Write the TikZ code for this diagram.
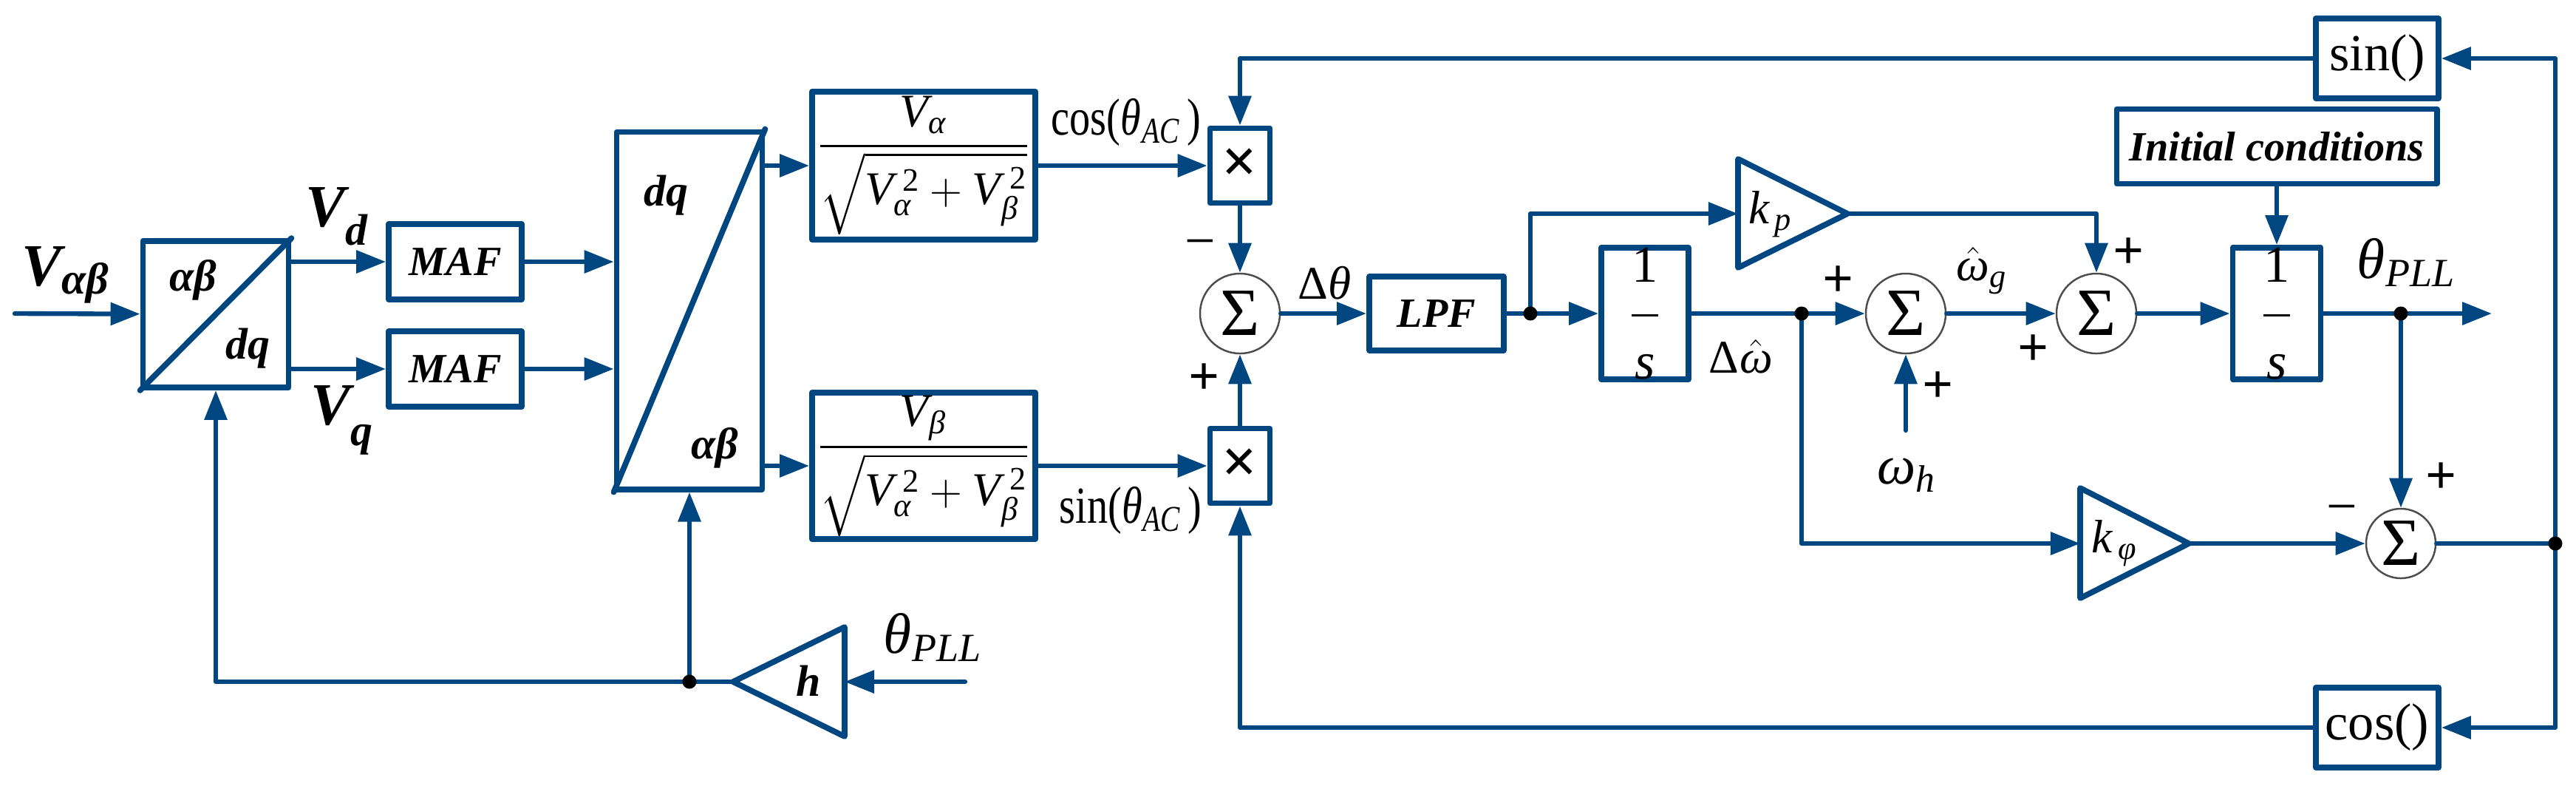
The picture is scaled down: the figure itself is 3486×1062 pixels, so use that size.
\documentclass[tikz,border=0pt]{standalone}
\usepackage{amsmath}
\usepackage{mathspec}
\setmainfont{Liberation Serif}
\setmathsfont(Digits,Latin,Greek){Liberation Serif}
\usetikzlibrary{arrows.meta}
\definecolor{lineblue}{RGB}{0,70,128}

\begin{document}
\begin{tikzpicture}[x=0.01cm,y=-0.01cm,line cap=round,line join=round,
  >={Triangle[length=0.40cm,width=0.30cm]},
  wire/.style={draw=lineblue,line width=1.8pt},
  edgeline/.style={draw=lineblue,line width=2.2pt},
  blk/.style={draw=lineblue,line width=2.2pt,fill=white,inner sep=0pt},
  sumc/.style={circle,draw=black!70,line width=0.7pt,inner sep=0pt,
    minimum size=1.08cm,font=\fontsize{26}{26}\selectfont},
  sgn/.style={inner sep=0pt,font=\bfseries\fontsize{21}{21}\selectfont},
  bi/.style={font=\bfseries\itshape\fontsize{16}{18}\selectfont},
  mth/.style={font=\fontsize{18}{20}\selectfont}]
  \useasboundingbox (0,0) rectangle (3486,1062);

  % frame change, averaging filters, back to alpha-beta
  \coordinate (vin) at (20,424);
  \node[blk,minimum width=1.97cm,minimum height=1.98cm] (park) at (292,425) {};
  \draw[edgeline] (park.south west) -- (park.north east);
  \node[bi,font=\bfseries\itshape\fontsize{17}{18}\selectfont] (parkab) at (261,379) {αβ};
  \node[bi,font=\bfseries\itshape\fontsize{17}{18}\selectfont] (parkdq) at (335,471) {dq};
  \node (lvab) at (88,372) {\bfseries\itshape\fontsize{23}{24}\selectfont
    V\raisebox{-3pt}{\fontsize{17}{17}\selectfont αβ}};
  \node (lvd) at (455,293) {\bfseries\itshape\fontsize{23}{24}\selectfont
    V\raisebox{-7pt}{\fontsize{17}{17}\selectfont d}};
  \node (lvq) at (462,568) {\bfseries\itshape\fontsize{23}{24}\selectfont
    V\raisebox{-8pt}{\fontsize{17}{17}\selectfont q}};
  \node[blk,bi,minimum width=1.80cm,minimum height=1.02cm] (maf1) at (616,354) {MAF};
  \node[blk,bi,minimum width=1.80cm,minimum height=1.02cm] (maf2) at (616,499) {MAF};
  \node[blk,minimum width=1.97cm,minimum height=4.83cm] (ipark) at (933,420) {};
  \draw[edgeline] (ipark.south west) -- (ipark.north east);
  \node[bi,font=\bfseries\itshape\fontsize{17}{18}\selectfont] (iparkdq) at (901,264) {dq};
  \node[bi,font=\bfseries\itshape\fontsize{17}{18}\selectfont] (iparkab) at (967,606) {αβ};

  % normalisation and multipliers
  \node[blk,mth,minimum width=3.02cm,minimum height=2.00cm] (fa) at (1250,224)
    {$\dfrac{V_{\alpha}}{\sqrt{V_{\alpha}^{\;2}+V_{\beta}^{\;2}}}$};
  \node[blk,mth,minimum width=3.02cm,minimum height=1.98cm] (fb) at (1250,630)
    {$\dfrac{V_{\beta}}{\sqrt{V_{\alpha}^{\;2}+V_{\beta}^{\;2}}}$};
  \node[mth,font=\fontsize{20}{22}\selectfont] (lcos) at (1524,165)
    {\scalebox{0.8}[1]{cos($\theta_{AC}$\,)}};
  \node[mth,font=\fontsize{20}{22}\selectfont] (lsin) at (1530,690)
    {\scalebox{0.8}[1]{sin($\theta_{AC}$\,)}};
  \node[blk,minimum width=0.81cm,minimum height=1.01cm,
    font=\bfseries\fontsize{24}{24}\selectfont] (ma) at (1678,224) {×};
  \node[blk,minimum width=0.81cm,minimum height=1.01cm,
    font=\bfseries\fontsize{24}{24}\selectfont] (mb) at (1678,630) {×};
  \node[sumc] (s1) at (1678,424) {Σ};
  \node[sgn,font=\fontsize{21}{21}\selectfont] (s1m) at (1624,337) {−};
  \node[sgn] (s1p) at (1630,513) {+};
  \node[mth] (ldth) at (1793,383) {$\Delta\theta$};

  % loop filter and integrators
  \node[blk,bi,minimum width=1.82cm,minimum height=1.00cm] (lpf) at (1944,424) {LPF};
  \coordinate (d1) at (2071,424);
  \node[blk,mth,minimum width=1.18cm,minimum height=1.74cm,
    font=\fontsize{20}{22}\selectfont] (int1) at (2226,424)
    {$\dfrac{\raisebox{4pt}{1}}{\raisebox{-5pt}{$s$}}$};
  \coordinate (kpin) at (2352,289);
  \coordinate (kptip) at (2500,289);
  \draw[edgeline,fill=white] (2352,215) -- (kptip) -- (2352,362) -- cycle;
  \node[mth] (lkp) at (2396,290) {$k_{\,p}$};
  \node[mth] (ldw) at (2356,482) {$\Delta\hat{\omega}$};
  \coordinate (d2) at (2438,424);
  \node[sumc] (s2) at (2579,424) {Σ};
  \node[sgn] (s2pa) at (2488,381) {+};
  \node[sgn] (s2pb) at (2623,524) {+};
  \coordinate (wh) at (2579,582);
  \node[mth,font=\fontsize{21}{22}\selectfont] (lwh) at (2580,643) {$\omega_{h}$};
  \node[mth] (lwg) at (2682,366) {$\hat{\omega}_{g}$};
  \node[sumc] (s3) at (2837,424) {Σ};
  \node[sgn] (s3pa) at (2881,343) {+};
  \node[sgn] (s3pb) at (2752,474) {+};
  \node[blk,bi,minimum width=4.33cm,minimum height=1.01cm] (init) at (3081,198)
    {Initial conditions};
  \node[blk,mth,minimum width=1.19cm,minimum height=1.74cm,
    font=\fontsize{20}{22}\selectfont] (int2) at (3081,424)
    {$\dfrac{\raisebox{4pt}{1}}{\raisebox{-5pt}{$s$}}$};
  \coordinate (d3) at (3249,424);
  \coordinate (pllout) at (3372,424);
  \node[mth,font=\fontsize{22}{24}\selectfont] (lpll) at (3256,355) {$\theta_{PLL}$};

  % phase correction branch
  \coordinate (kphiin) at (2815,735);
  \coordinate (kphitip) at (2962,735);
  \draw[edgeline,fill=white] (2815,660) -- (kphitip) -- (2815,809) -- cycle;
  \node[mth] (lkphi) at (2862,735) {$k_{\,\phi}$};
  \node[sumc,minimum size=0.94cm] (s4) at (3249,735) {Σ};
  \node[sgn] (s4p) at (3304,647) {+};
  \node[sgn,font=\fontsize{21}{21}\selectfont] (s4m) at (3169,696) {−};
  \coordinate (d4) at (3458,735);
  \node[blk,minimum width=1.66cm,minimum height=1.08cm,
    font=\fontsize{20}{22}\selectfont] (sinb) at (3217,79) {sin()};
  \node[blk,minimum width=1.66cm,minimum height=1.08cm,
    font=\fontsize{20}{22}\selectfont] (cosb) at (3217,984) {cos()};

  % gain h on the fed-back angle
  \coordinate (hin) at (1143,922);
  \coordinate (htip) at (992,922);
  \draw[edgeline,fill=white] (1143,848) -- (htip) -- (1143,996) -- cycle;
  \node[bi,font=\bfseries\itshape\fontsize{17}{18}\selectfont] (lh) at (1094,921) {h};
  \coordinate (d5) at (933,922);
  \coordinate (thin) at (1306,922);
  \node[mth,font=\fontsize{22}{24}\selectfont] (lthin) at (1262,862) {$\theta_{PLL}$};

  % connectors
  \draw[wire,->] (vin) -- (park);
  \draw[wire,->] (park.east |- maf1) -- (maf1);
  \draw[wire,->] (park.east |- maf2) -- (maf2);
  \draw[wire,->] (maf1) -- (maf1 -| ipark.west);
  \draw[wire,->] (maf2) -- (maf2 -| ipark.west);
  \draw[wire,->] (ipark.east |- fa) -- (fa);
  \draw[wire,->] (ipark.east |- fb) -- (fb);
  \draw[wire,->] (fa) -- (ma);
  \draw[wire,->] (fb) -- (mb);
  \draw[wire,->] (ma) -- (s1);
  \draw[wire,->] (mb) -- (s1);
  \draw[wire,->] (s1) -- (lpf);
  \draw[wire] (lpf) -- (d1);
  \draw[wire,->] (d1) -- (int1);
  \draw[wire,->] (d1) |- (kpin);
  \draw[wire] (int1) -- (d2);
  \draw[wire,->] (d2) -- (s2);
  \draw[wire,->] (d2) |- (kphiin);
  \draw[wire,->] (wh) -- (s2);
  \draw[wire,->] (s2) -- (s3);
  \draw[wire,->] (kptip) -| (s3);
  \draw[wire,->] (s3) -- (int2);
  \draw[wire,->] (init) -- (int2);
  \draw[wire,->] (int2) -- (pllout);
  \draw[wire,->] (d3) -- (s4);
  \draw[wire,->] (kphitip) -- (s4);
  \draw[wire] (s4) -- (d4);
  \draw[wire,->] (d4) |- (sinb);
  \draw[wire,->] (d4) |- (cosb);
  \draw[wire,->] (sinb) -| (ma);
  \draw[wire,->] (cosb) -| (mb);
  \draw[wire,->] (thin) -- (hin);
  \draw[wire] (htip) -- (d5);
  \draw[wire,->] (d5) -- (ipark);
  \draw[wire,->] (d5) -| (park);

  % branch points
  \foreach \d in {d1,d2,d3,d4,d5}
    \fill (\d) circle (0.095cm);
\end{tikzpicture}
\end{document}
